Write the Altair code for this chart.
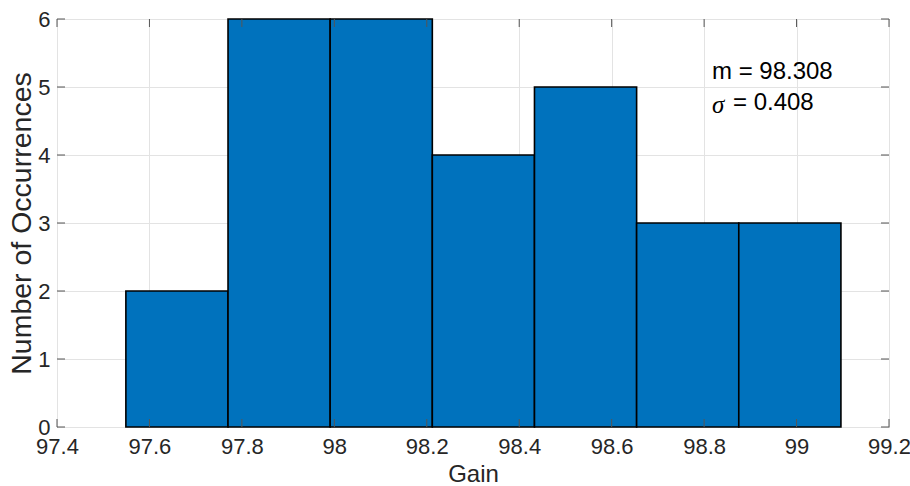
import altair as alt
import pandas as pd

# Histogram of measured gain: bin edges and counts per bin
bin_edges = [97.549, 97.770, 97.991, 98.212, 98.433, 98.654, 98.875, 99.096]
counts = [2, 6, 6, 4, 5, 3, 3]

x_ticks = [97.4, 97.6, 97.8, 98.0, 98.2, 98.4, 98.6, 98.8, 99.0, 99.2]
y_ticks = [0, 1, 2, 3, 4, 5, 6]

mean_text = "m = 98.308"
sigma_symbol = "σ"
sigma_text = "= 0.408"

FONT = "Liberation Sans"
BAR = "#0072BD"
TXT = "#262626"

bars_df = pd.DataFrame({
    "lo": bin_edges[:-1],
    "hi": bin_edges[1:],
    "count": counts,
})

x_scale = alt.Scale(domain=[97.4, 99.2], nice=False, zero=False)
y_scale = alt.Scale(domain=[0, 6], nice=False)

x_axis = alt.Axis(
    values=x_ticks, format="~g", title="Gain", grid=True, gridColor="#e3e3e3",
    ticks=False, domain=False, labelFlush=False, labelFont=FONT,
    labelFontSize=22, labelColor=TXT, labelPadding=9, titleFont=FONT,
    titleFontSize=24, titleFontWeight="normal", titleColor=TXT, titlePadding=5,
)
y_axis = alt.Axis(
    values=y_ticks, format="d", title="Number of Occurrences", grid=True,
    gridColor="#e3e3e3", ticks=False, domain=False, labelFlush=False,
    labelFont=FONT, labelFontSize=22, labelColor=TXT, labelPadding=7,
    titleFont=FONT, titleFontSize=28.5, titleFontWeight="normal",
    titleColor=TXT, titlePadding=1,
)

bars = alt.Chart(bars_df).mark_rect(
    color=BAR, stroke="black", strokeWidth=1.6
).encode(
    x=alt.X("lo:Q", scale=x_scale, axis=x_axis),
    x2="hi:Q",
    y=alt.Y("count:Q", scale=y_scale, axis=y_axis),
    y2=alt.datum(0),
)

# inward tick marks on all four sides of the box
xt_df = pd.DataFrame({"v": x_ticks})
yt_df = pd.DataFrame({"v": y_ticks})
tick_style = dict(color="#555555", strokeWidth=1)
xt_bottom = alt.Chart(xt_df).mark_rule(**tick_style).encode(
    x=alt.X("v:Q", scale=x_scale), y=alt.value(408), y2=alt.value(400))
xt_top = alt.Chart(xt_df).mark_rule(**tick_style).encode(
    x=alt.X("v:Q", scale=x_scale), y=alt.value(0), y2=alt.value(8))
yt_left = alt.Chart(yt_df).mark_rule(**tick_style).encode(
    y=alt.Y("v:Q", scale=y_scale), x=alt.value(0), x2=alt.value(8))
yt_right = alt.Chart(yt_df).mark_rule(**tick_style).encode(
    y=alt.Y("v:Q", scale=y_scale), x=alt.value(832), x2=alt.value(824))

# mean / standard deviation annotation
ann_df = pd.DataFrame({"x": [98.817], "y": [5.22], "t": [mean_text]})
sig_df = pd.DataFrame({"x": [98.817], "y": [4.76], "s": [sigma_symbol], "t": [sigma_text]})
mean_label = alt.Chart(ann_df).mark_text(
    font=FONT, fontSize=24, align="left", baseline="middle", color="black"
).encode(x=alt.X("x:Q", scale=x_scale), y=alt.Y("y:Q", scale=y_scale), text="t:N")
sigma_label = alt.Chart(sig_df).mark_text(
    font="Liberation Serif", fontSize=25, fontStyle="italic", align="left",
    baseline="middle", color="black", dy=2
).encode(x=alt.X("x:Q", scale=x_scale), y=alt.Y("y:Q", scale=y_scale), text="s:N")
sigma_value = alt.Chart(sig_df).mark_text(
    font=FONT, fontSize=24, align="left", baseline="middle", color="black", dx=21
).encode(x=alt.X("x:Q", scale=x_scale), y=alt.Y("y:Q", scale=y_scale), text="t:N")

chart = alt.layer(
    bars, xt_bottom, xt_top, yt_left, yt_right, mean_label, sigma_label, sigma_value
).properties(
    width=832, height=408,
    padding={"left": 57, "top": 19, "right": 21, "bottom": 59},
    autosize=alt.AutoSizeParams(type="none"),
    background="white",
).configure_view(
    stroke="#666666", strokeWidth=1
)

chart.save("out.html", embed_options={"renderer": "svg", "actions": False})
